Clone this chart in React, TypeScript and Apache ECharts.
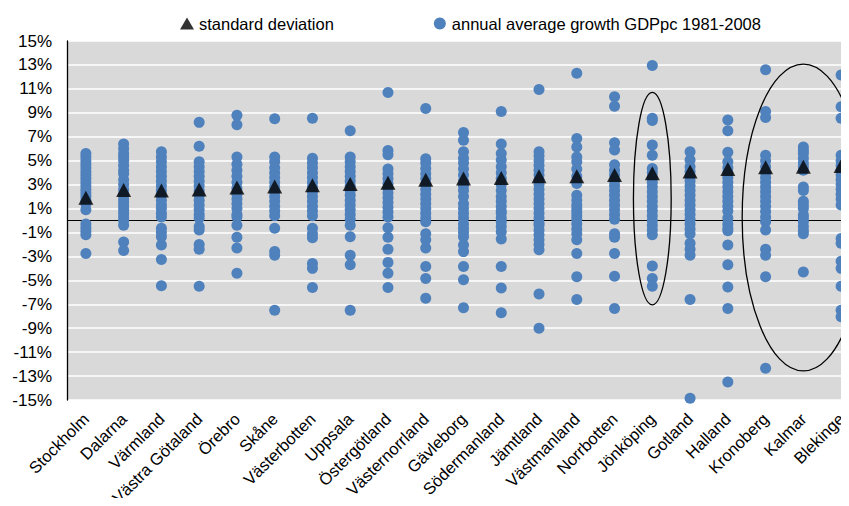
import React, { useEffect, useRef } from "react";
import * as echarts from "echarts";

const counties = [
  "Stockholm", "Dalarna", "Värmland", "Västra Götaland", "Örebro", "Skåne",
  "Västerbotten", "Uppsala", "Östergötland", "Västernorrland", "Gävleborg",
  "Södermanland", "Jämtland", "Västmanland", "Norrbotten", "Jönköping",
  "Gotland", "Halland", "Kronoberg", "Kalmar", "Blekinge",
];

const stdDev = [1.9, 2.55, 2.5, 2.6, 2.75, 2.85, 2.95, 3.05, 3.15, 3.4, 3.5, 3.55, 3.7, 3.7, 3.8, 3.95, 4.1, 4.3, 4.45, 4.5, 4.55];

const stockholm = [5.6, 5.3, 5.0, 4.7, 4.4, 4.1, 3.8, 3.5, 3.2, 2.9, 2.6, 2.3, 2.0, 1.7, 1.4, 0.9, -0.3, -0.6, -0.9, -1.2, -2.75];
const dalarna = [6.4, 6.0, 5.6, 5.3, 5.0, 4.6, 4.2, 3.9, 3.4, 3.0, 2.6, 2.2, 1.8, 1.5, 1.2, 0.9, 0.6, 0.3, 0.0, -0.4, -1.8, -2.5];
const varmland = [5.75, 5.3, 4.9, 4.5, 4.1, 3.7, 3.3, 2.9, 2.5, 2.1, 1.7, 1.3, 1.0, 0.6, 0.3, -0.65, -1.0, -1.35, -2.05, -3.25, -5.45];
const vastraGotaland = [8.2, 6.2, 4.9, 4.5, 4.1, 3.7, 3.3, 2.9, 2.5, 2.1, 1.7, 1.3, 0.9, 0.5, 0.2, -0.5, -0.8, -2.0, -2.4, -5.5];
const orebro = [8.8, 8.0, 5.3, 4.7, 4.2, 3.7, 3.2, 2.7, 2.2, 1.8, 1.4, 1.0, 0.5, 0.3, -0.4, -1.4, -2.3, -4.4];
const skane = [8.5, 5.3, 4.9, 4.4, 4.0, 3.6, 3.2, 2.8, 2.4, 2.0, 1.6, 1.2, 0.8, 0.4, -0.65, -2.6, -2.9, -7.5];
const vasterbotten = [8.55, 5.2, 4.8, 4.4, 4.0, 3.6, 3.2, 2.8, 2.4, 2.0, 1.6, 1.2, 0.8, 0.4, -0.65, -1.1, -1.45, -3.6, -4.0, -5.6];
const uppsala = [7.5, 5.3, 4.9, 4.5, 4.1, 3.7, 3.3, 2.9, 2.5, 2.1, 1.7, 1.3, 0.9, 0.5, 0.1, -0.4, -1.35, -2.9, -3.7, -7.5];
const ostergotland = [10.7, 5.85, 5.5, 4.3, 3.9, 3.5, 3.1, 2.7, 2.3, 1.9, 1.5, 1.1, 0.7, 0.3, -0.6, -1.4, -2.4, -3.5, -4.4, -5.6];
const vasternorrland = [9.35, 5.15, 4.8, 4.35, 3.9, 3.5, 3.0, 2.6, 2.2, 1.8, 1.4, 1.0, 0.6, 0.2, -0.1, -1.1, -1.6, -2.3, -3.85, -4.85, -6.5];
const gavleborg = [7.35, 6.7, 5.75, 5.2, 4.8, 4.3, 3.8, 3.3, 2.9, 2.5, 2.0, 1.4, 1.0, 0.6, 0.2, -0.3, -0.65, -1.0, -1.35, -2.05, -2.6, -3.85, -4.95, -7.3];
const sodermanland = [9.1, 6.4, 5.6, 5.05, 4.5, 4.0, 3.5, 3.0, 2.5, 2.0, 1.6, 1.2, 0.8, 0.6, 0.2, -0.1, -0.5, -0.95, -1.55, -3.85, -5.65, -7.7];
const jamtland = [10.95, 5.75, 5.4, 5.0, 4.6, 4.2, 3.8, 3.4, 3.0, 2.6, 2.2, 1.8, 1.4, 1.0, 0.6, 0.2, -0.2, -0.4, -0.8, -1.2, -1.6, -2.0, -2.45, -6.15, -9.0];
const vastmanland = [12.3, 6.85, 6.15, 5.3, 4.9, 4.3, 3.7, 3.1, 2.1, 1.7, 1.3, 1.0, 0.7, 0.4, 0.1, -0.3, -0.7, -1.1, -1.6, -2.75, -4.7, -6.6];
const norrbotten = [10.35, 9.55, 6.5, 5.9, 4.65, 4.2, 3.8, 3.3, 2.9, 2.5, 2.1, 1.7, 1.3, 0.9, 0.5, 0.1, -1.1, -1.4, -2.75, -4.65, -7.35];
const jonkoping = [12.95, 8.55, 8.35, 6.3, 5.45, 4.35, 4.0, 3.6, 3.2, 2.8, 2.4, 2.0, 1.6, 1.2, 0.8, 0.4, 0.0, -0.4, -0.8, -1.2, -3.8, -4.85, -5.5];
const gotland = [5.75, 5.05, 4.5, 4.1, 3.7, 3.3, 2.9, 2.5, 2.1, 1.7, 1.3, 0.9, 0.5, 0.1, -0.3, -0.7, -1.1, -1.9, -2.4, -2.9, -6.6, -14.85];
const halland = [8.4, 7.5, 5.7, 4.9, 4.4, 4.0, 3.6, 3.2, 2.8, 2.4, 2.0, 1.6, 1.2, 0.8, 0.2, -0.3, -0.65, -0.85, -2.05, -3.7, -5.55, -7.35, -13.5];
const kronoberg = [12.6, 9.1, 8.6, 5.45, 5.0, 4.5, 4.0, 3.6, 3.2, 2.8, 2.4, 2.0, 1.6, 1.2, 0.75, 0.3, -0.1, -0.8, -2.4, -2.9, -4.7, -12.35];
const kalmar = [6.15, 5.85, 5.6, 5.2, 4.8, 4.5, 4.2, 2.8, 2.5, 1.6, 1.3, 1.0, 0.45, 0.2, -0.1, -0.5, -0.85, -1.1, -4.3];
const blekinge = [12.15, 9.5, 8.55, 5.45, 5.0, 4.6, 4.2, 3.8, 3.4, 3.0, 2.6, 2.2, 1.8, 1.3, -1.5, -1.9, -3.4, -4.0, -5.5, -7.5, -8.05];

const growthByCounty = [
  stockholm, dalarna, varmland, vastraGotaland, orebro, skane, vasterbotten,
  uppsala, ostergotland, vasternorrland, gavleborg, sodermanland, jamtland,
  vastmanland, norrbotten, jonkoping, gotland, halland, kronoberg, kalmar, blekinge,
];

const yTicks = { min: -15, max: 15, interval: 2 };

// highlighted groups: [center category index, top value, bottom value, half width in categories]
const ellipseSpecs = [
  { cat: 15, top: 10.7, bottom: -7.05, halfCats: 0.5 },
  { cat: 19, top: 13.07, bottom: -12.57, halfCats: 1.62 },
];

const SD_NAME = "standard deviation";
const GROWTH_NAME = "annual average growth GDPpc 1981-2008";
const FONT = "'Liberation Sans', Arial, sans-serif";

export default function App() {
  const ref = useRef<HTMLDivElement>(null);

  useEffect(() => {
    if (!ref.current) return;
    const chart = echarts.init(ref.current, undefined, { renderer: "svg" });

    const growthData: [number, number][] = [];
    growthByCounty.forEach((vals, i) => vals.forEach((v) => growthData.push([i, v])));

    chart.setOption({
      animation: false,
      textStyle: { fontFamily: FONT },
      legend: {
        left: 175,
        top: 10,
        itemGap: 100,
        itemWidth: 14,
        itemHeight: 12,
        textStyle: { fontSize: 16.5, color: "#000", fontFamily: FONT },
        data: [
          { name: SD_NAME, icon: "triangle" },
          { name: GROWTH_NAME, icon: "circle" },
        ],
      },
      grid: {
        left: 67,
        top: 41,
        width: 793,
        height: 359,
        show: true,
        backgroundColor: "#d9d9d9",
        borderWidth: 0,
        containLabel: false,
        outerBoundsMode: "none",
      },
      xAxis: {
        type: "category",
        data: counties,
        boundaryGap: true,
        axisLine: { show: false, onZero: false },
        axisTick: { show: false },
        axisLabel: {
          rotate: 45,
          interval: 0,
          margin: 16,
          fontSize: 16.5,
          color: "#000",
          fontFamily: FONT,
        },
        splitLine: { show: false },
      },
      yAxis: {
        type: "value",
        min: yTicks.min,
        max: yTicks.max,
        interval: yTicks.interval,
        axisLine: { show: true, lineStyle: { color: "#000", width: 1.3 } },
        axisTick: { show: false },
        axisLabel: {
          formatter: (v: number) => `${v}%`,
          fontSize: 17,
          color: "#000",
          margin: 15,
          fontFamily: FONT,
        },
        splitLine: { show: true, lineStyle: { color: "#ffffff", width: 1.5 } },
      },
      series: [
        {
          name: GROWTH_NAME,
          type: "scatter",
          data: growthData,
          symbol: "circle",
          symbolSize: 11,
          itemStyle: { color: "#4f81bd", opacity: 1 },
          z: 2,
          markLine: {
            silent: true,
            symbol: "none",
            label: { show: false },
            lineStyle: { color: "#000", width: 1.2, type: "solid" },
            data: [{ yAxis: 0 }],
            z: 1,
          },
        },
        {
          name: SD_NAME,
          type: "scatter",
          data: stdDev.map((v, i) => [i, v]),
          symbol: "triangle",
          symbolSize: [15, 14],
          itemStyle: { color: "#000" },
          z: 3,
        },
      ],
    });

    const catW =
      (chart.convertToPixel({ xAxisIndex: 0 }, 1) as number) -
      (chart.convertToPixel({ xAxisIndex: 0 }, 0) as number);
    const graphics = ellipseSpecs.map((e) => {
      const cx = chart.convertToPixel({ xAxisIndex: 0 }, e.cat) as number;
      const yTop = chart.convertToPixel({ yAxisIndex: 0 }, e.top) as number;
      const yBot = chart.convertToPixel({ yAxisIndex: 0 }, e.bottom) as number;
      return {
        type: "ellipse",
        shape: { cx, cy: (yTop + yBot) / 2, rx: e.halfCats * catW, ry: (yBot - yTop) / 2 },
        style: { fill: "none", stroke: "#000", lineWidth: 1.3 },
        z: 10,
        silent: true,
      };
    });
    chart.setOption({ graphic: graphics });

    return () => chart.dispose();
  }, []);

  return <div ref={ref} style={{ width: 849, height: 506, margin: -8 }} />;
}
